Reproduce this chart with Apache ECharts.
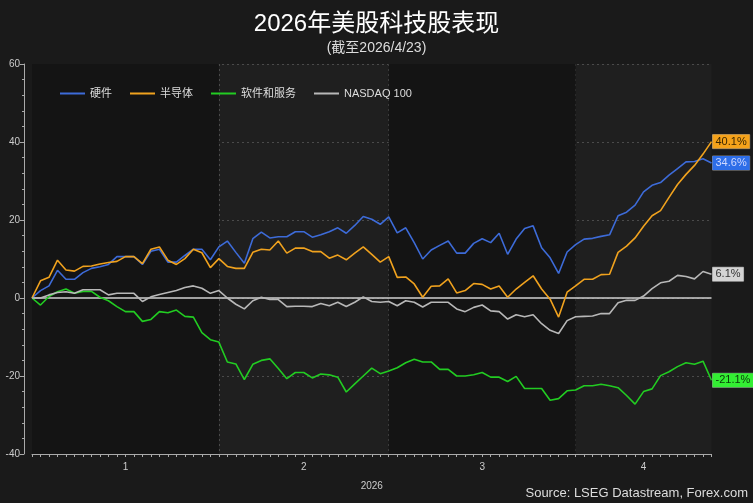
<!DOCTYPE html>
<html>
<head>
<meta charset="utf-8">
<script src="https://cdn.jsdelivr.net/npm/echarts@6/dist/echarts.min.js"></script>
<style>
html,body{margin:0;padding:0;background:#1a1a1a;}
#chart{width:753px;height:503px;}
</style>
</head>
<body>
<div id="chart"></div>
<script>
const dates = [
 '01-01','01-02','01-05','01-06','01-07','01-08','01-09','01-12','01-13','01-14','01-15','01-16','01-19','01-20','01-21','01-22','01-23','01-26','01-27','01-28','01-29','01-30',
 '02-02','02-03','02-04','02-05','02-06','02-09','02-10','02-11','02-12','02-13','02-16','02-17','02-18','02-19','02-20','02-23','02-24','02-25','02-26','02-27',
 '03-02','03-03','03-04','03-05','03-06','03-09','03-10','03-11','03-12','03-13','03-16','03-17','03-18','03-19','03-20','03-23','03-24','03-25','03-26','03-27','03-30','03-31',
 '04-01','04-02','04-03','04-06','04-07','04-08','04-09','04-10','04-13','04-14','04-15','04-16','04-17','04-20','04-21','04-22','04-23'
];
const hardware = [0,1.9,3.1,7.1,4.8,4.8,6.5,7.6,8.0,8.6,10.6,10.6,10.6,8.6,12.0,12.5,9.2,9.2,10.9,12.5,12.5,9.8,
 13.1,14.6,11.7,8.9,15.2,16.9,15.4,15.7,15.7,17.0,17.0,15.6,16.2,17.0,18.0,16.6,18.6,20.9,20.2,18.9,
 20.8,16.7,18.0,14.2,10.0,12.3,13.5,14.6,11.5,11.5,14.0,15.2,14.2,16.6,11.2,15.1,17.8,18.5,12.9,10.3,6.3,11.8,
 13.7,15.1,15.3,15.8,16.2,21.1,22.0,23.8,27.2,28.9,29.6,31.5,33.2,34.9,35.0,35.7,34.6];
const semis = [0,4.4,5.3,9.7,7.2,6.9,8.1,8.2,8.7,9.1,9.4,10.6,10.6,8.8,12.5,13.1,9.7,8.6,10.1,12.5,11.6,7.8,
 10.1,8.1,7.6,7.6,11.7,12.5,12.3,14.6,11.5,12.8,12.8,11.9,11.9,10.2,11.0,9.8,11.5,13.1,11.2,9.2,
 10.6,5.3,5.4,3.6,0.2,3.0,3.1,4.9,1.3,1.9,3.7,3.5,2.3,3.1,0.2,2.3,4.0,5.7,2.3,-0.3,-4.9,1.5,
 3.1,4.8,4.8,6.0,6.1,11.7,13.3,15.4,18.4,21.1,22.4,25.8,29.1,31.7,34.0,36.9,40.1];
const software = [0,-1.8,0.4,1.6,2.3,1.2,1.7,1.7,0.2,-0.7,-2.2,-3.5,-3.5,-6.0,-5.5,-3.5,-3.8,-3.1,-4.7,-4.9,-8.9,-10.7,
 -11.3,-16.4,-16.9,-20.9,-17.0,-16.0,-15.6,-18.1,-20.7,-19.1,-19.1,-20.5,-19.5,-19.7,-20.3,-24.1,-22.0,-20.0,-18.0,-19.4,
 -18.7,-17.9,-16.6,-15.7,-16.4,-16.4,-18.3,-18.3,-20.0,-20.0,-19.7,-19.1,-20.3,-20.3,-21.4,-20.1,-23.2,-23.2,-23.2,-26.2,-25.8,-23.8,
 -23.6,-22.5,-22.5,-22.1,-22.5,-23.0,-25.0,-27.2,-24.0,-23.3,-19.9,-18.9,-17.6,-16.6,-17.0,-16.2,-21.1];
const nasdaq = [0,0,0.8,1.4,1.6,1.2,2.1,2.1,2.1,0.8,1.2,1.2,1.2,-0.9,0.3,0.9,1.4,1.9,2.7,3.1,2.5,1.2,
 1.9,0.0,-1.6,-2.8,-0.7,0.2,-0.4,-0.4,-2.2,-2.1,-2.1,-2.2,-1.4,-2.0,-1.1,-2.2,-1.1,0.3,-0.9,-1.1,
 -0.9,-2.0,-0.7,-1.1,-2.3,-1.1,-1.1,-1.1,-2.8,-3.5,-2.4,-1.8,-3.3,-3.5,-5.4,-4.3,-4.8,-4.3,-6.6,-8.3,-9.1,-5.8,
 -4.8,-4.7,-4.6,-4.0,-4.0,-1.2,-0.6,-0.6,0.5,2.4,3.9,4.3,5.8,5.5,4.9,6.8,6.1];
const seriesNames = ['硬件','半导体','软件和服务','NASDAQ 100'];
const seriesColors = ['#3d6bd8','#f0a21e','#22cc22','#b8b8b8'];
const labelBg = ['#2e6ee8','#f5a21a','#33ee33','#d4d4d4'];
const labelText = ['#cfd8ff','#3a2600','#0a3a0a','#333333'];
const monthStarts = ['01-01','02-02','03-02','04-01'];
const monthLabelIdx = {11:'1',32:'2',53:'3',72:'4'};
const yTicks = {min:-40,max:60,interval:20};
const titleText = '2026年美股科技股表现';
const subText = '(截至2026/4/23)';
const sourceText = 'Source: LSEG Datastream, Forex.com';

const splitIdx = monthStarts.map(d => dates.indexOf(d));
const allData = [hardware, semis, software, nasdaq];

const chart = echarts.init(document.getElementById('chart'), null, {renderer:'canvas'});
const FONT = '"Liberation Sans","Noto Sans CJK SC",sans-serif';

const series = allData.map((d, i) => ({
  name: seriesNames[i],
  type: 'line',
  data: d,
  showSymbol: false,
  symbol: 'none',
  lineStyle: {width: 1.6, color: seriesColors[i]},
  itemStyle: {color: seriesColors[i]},
  z: 5 + i,
  endLabel: {
    show: true,
    formatter: p => p.value + '%',
    backgroundColor: labelBg[i],
    color: labelText[i],
    fontFamily: FONT,
    fontSize: 11,
    padding: [2, 3, 1, 3],
    borderColor: '#888',
    borderWidth: 0.5,
    distance: 1
  }
}));
series[0].markArea = {
  silent: true,
  itemStyle: {color: '#141414'},
  data: [
    [{xAxis: monthStarts[0]}, {xAxis: monthStarts[1]}],
    [{xAxis: monthStarts[2]}, {xAxis: monthStarts[3]}]
  ]
};
series[0].markLine = {
  silent: true,
  symbol: 'none',
  label: {show: false},
  lineStyle: {color: '#d0d0d0', type: 'solid', width: 1.5},
  data: [{yAxis: 0}]
};

chart.setOption({
  backgroundColor: '#1a1a1a',
  animation: false,
  textStyle: {fontFamily: FONT},
  title: [
    {
      text: titleText, subtext: subText, left: 'center', top: 7, itemGap: 5,
      textStyle: {color: '#ffffff', fontSize: 24, fontWeight: 'normal', fontFamily: FONT},
      subtextStyle: {color: '#dddddd', fontSize: 14, fontFamily: FONT}
    },
    {
      text: sourceText, right: 5, bottom: 3, padding: 0,
      textStyle: {color: '#dddddd', fontSize: 13, fontWeight: 'normal', fontFamily: FONT}
    }
  ],
  legend: {
    data: seriesNames,
    left: 55, top: 83,
    icon: 'rect', itemWidth: 25, itemHeight: 2, itemGap: 18,
    textStyle: {color: '#dddddd', fontSize: 11, fontFamily: FONT}
  },
  grid: {left: 32, right: 41.5, top: 64, bottom: 49, show: true, backgroundColor: '#1f1f1f', borderWidth: 0},
  xAxis: {
    type: 'category',
    data: dates,
    boundaryGap: false,
    name: '2026',
    nameLocation: 'middle',
    nameGap: 27,
    nameTextStyle: {color: '#cccccc', fontSize: 10},
    axisLine: {onZero: false, lineStyle: {color: '#aaaaaa', width: 1}},
    axisTick: {show: true, interval: 0, length: 3, lineStyle: {color: '#aaaaaa'}},
    axisLabel: {
      interval: (idx) => monthLabelIdx[idx] !== undefined,
      formatter: (v, idx) => monthLabelIdx[idx] || '',
      color: '#cccccc', fontSize: 10, margin: 8
    },
    splitLine: {
      show: true,
      interval: (idx) => splitIdx.indexOf(idx) >= 0,
      lineStyle: {color: '#4a4a4a', type: [2, 3], width: 1}
    }
  },
  yAxis: {
    type: 'value',
    min: yTicks.min, max: yTicks.max, interval: yTicks.interval,
    offset: 8,
    axisLine: {show: true, lineStyle: {color: '#aaaaaa'}},
    axisTick: {show: true, length: 4, lineStyle: {color: '#aaaaaa'}},
    minorTick: {show: true, splitNumber: 5, length: 2, lineStyle: {color: '#aaaaaa'}},
    axisLabel: {color: '#cccccc', fontSize: 10, margin: 4},
    splitLine: {show: true, lineStyle: {color: '#4a4a4a', type: [2, 3], width: 1}}
  },
  series: series
});
</script>
</body>
</html>
